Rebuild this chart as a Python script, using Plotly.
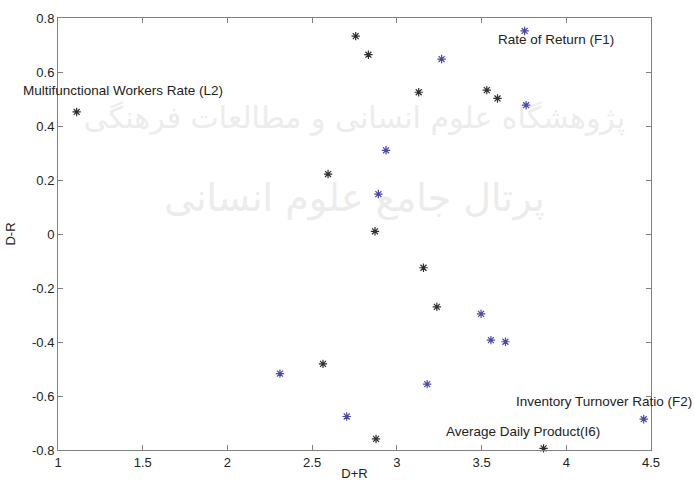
import plotly.graph_objects as go

# Data (D+R, D-R)
blue_x = [3.264, 3.754, 3.763, 2.936, 2.891, 3.497, 3.555, 3.641, 3.179, 4.457, 2.310, 2.704]
blue_y = [0.648, 0.752, 0.477, 0.310, 0.148, -0.296, -0.393, -0.399, -0.556, -0.686, -0.517, -0.676]
black_x = [1.110, 2.757, 2.832, 3.129, 3.531, 3.594, 2.594, 2.871, 3.157, 3.236, 2.877, 2.564, 3.866]
black_y = [0.452, 0.733, 0.664, 0.525, 0.533, 0.502, 0.222, 0.010, -0.125, -0.270, -0.759, -0.481, -0.794]

label_text = ["Multifunctional Workers Rate (L2)", "Rate of Return (F1)",
              "Inventory Turnover Ratio (F2)", "Average Daily Product(I6)"]
label_x = [0.78, 3.584, 3.69, 3.277]
label_y = [0.533, 0.719, -0.622, -0.733]

x_range = [1, 4.5]
y_range = [-0.8, 0.8]
x_ticks = [1, 1.5, 2, 2.5, 3, 3.5, 4, 4.5]
x_tick_text = ["1", "1.5", "2", "2.5", "3", "3.5", "4", "4.5"]
y_ticks = [-0.8, -0.6, -0.4, -0.2, 0, 0.2, 0.4, 0.6, 0.8]
y_tick_text = ["-0.8", "-0.6", "-0.4", "-0.2", "0", "0.2", "0.4", "0.6", "0.8"]

watermark = ["پژوهشگاه علوم انسانی و مطالعات فرهنگی", "پرتال جامع علوم انسانی"]
watermark_x = [2.75, 2.75]
watermark_y = [0.42, 0.12]

FONT = "Liberation Sans, Arial, Helvetica, sans-serif"

fig = go.Figure()

# faint watermark drawn beneath the markers
fig.add_trace(go.Scatter(x=watermark_x, y=watermark_y, mode="text", text=watermark,
                         textfont=dict(family="DejaVu Sans", size=[30, 38], color="#ececec"),
                         showlegend=False, hoverinfo="skip"))

fig.add_trace(go.Scatter(x=blue_x, y=blue_y, mode="markers",
                         marker=dict(symbol="asterisk-open", size=7, color="#4848a8",
                                     line=dict(color="#4848a8", width=1.2)),
                         showlegend=False, cliponaxis=False))
fig.add_trace(go.Scatter(x=black_x, y=black_y, mode="markers",
                         marker=dict(symbol="asterisk-open", size=7, color="#2e2e2e",
                                     line=dict(color="#2e2e2e", width=1.2)),
                         showlegend=False, cliponaxis=False))

for t, lx, ly in zip(label_text, label_x, label_y):
    px = (lx - x_range[0]) / (x_range[1] - x_range[0])
    py = (ly - y_range[0]) / (y_range[1] - y_range[0])
    fig.add_annotation(text=t, x=px, y=py, xref="paper", yref="paper", showarrow=False,
                       xanchor="left", yanchor="middle",
                       font=dict(family=FONT, size=13.5, color="#222"))

axis_common = dict(showgrid=False, zeroline=False, showline=True, linecolor="#808080",
                   linewidth=1, mirror="ticks", ticks="inside", ticklen=5,
                   tickcolor="#808080", automargin=False,
                   tickfont=dict(family=FONT, size=13, color="#222"))

fig.update_xaxes(range=x_range, tickvals=x_ticks, ticktext=x_tick_text,
                 title=dict(text="D+R", standoff=0,
                            font=dict(family=FONT, size=13, color="#222")),
                 **axis_common)
fig.update_yaxes(range=y_range, tickvals=y_ticks, ticktext=y_tick_text,
                 title=dict(text="D-R", standoff=13,
                            font=dict(family=FONT, size=13, color="#222")),
                 **axis_common)

fig.update_layout(width=694, height=483, plot_bgcolor="white", paper_bgcolor="white",
                  margin=dict(l=58, r=43, t=18, b=33, autoexpand=False))

fig.write_html("out.html", config={"displayModeBar": False},
               post_script="document.body.style.margin='0';")
